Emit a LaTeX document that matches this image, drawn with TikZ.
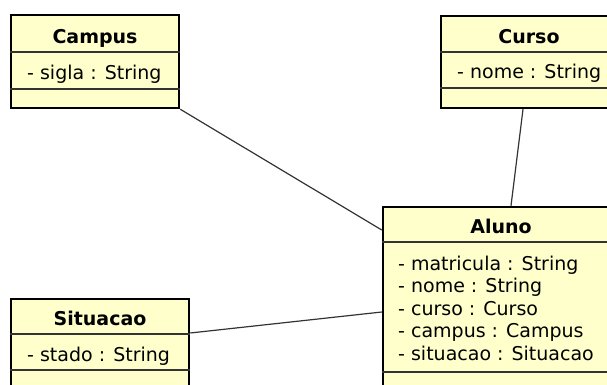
\documentclass[tikz,border=0pt]{standalone}
\usepackage{fontspec}
\setmainfont{DejaVu Sans}
\definecolor{classfill}{HTML}{FFFFCC}
\definecolor{lineclr}{HTML}{333333}
\tikzset{
  classbox/.style={rectangle, draw=black, fill=classfill, line width=2.5pt, inner sep=0pt},
  sepline/.style={draw=lineclr, line width=1.5pt},
  classtitle/.style={font=\bfseries\fontsize{19}{22}\selectfont, inner sep=0pt, anchor=base},
  attr/.style={font=\fontsize{19}{22.5}\selectfont, inner sep=0pt, anchor=base west},
  assoc/.style={draw=lineclr, line width=1.2pt},
}
\begin{document}
\begin{tikzpicture}[x=1pt,y=-1pt]
\useasboundingbox (0,0) rectangle (607,385);
\clip (0,0) rectangle (607,385);

% Campus
\node[classbox, minimum width=168pt, minimum height=93pt] (campus) at (95,61.5) {};
\draw[sepline] (campus.west |- 0,52) -- (campus.east |- 0,52);
\draw[sepline] (campus.west |- 0,89) -- (campus.east |- 0,89);
\node[classtitle] (campustitle) at (95,43.3) {Campus};
\node[attr] (campusa1) at (27,79.5) {- sigla : String};

% Curso
\node[classbox, minimum width=176pt, minimum height=92pt] (curso) at (529,62) {};
\draw[sepline] (curso.west |- 0,52) -- (curso.east |- 0,52);
\draw[sepline] (curso.west |- 0,88) -- (curso.east |- 0,88);
\node[classtitle] (cursotitle) at (529,43.3) {Curso};
\node[attr] (cursoa1) at (457,79) {- nome : String};

% Aluno
\node[classbox, minimum width=236pt, minimum height=193pt] (aluno) at (501,303.5) {};
\draw[sepline] (aluno.west |- 0,242) -- (aluno.east |- 0,242);
\draw[sepline] (aluno.west |- 0,372) -- (aluno.east |- 0,372);
\node[classtitle] (alunotitle) at (501,233.3) {Aluno};
\node[attr] (alunoa1) at (398,270) {- matricula : String};
\node[attr] (alunoa2) at (398,292.5) {- nome : String};
\node[attr] (alunoa3) at (398,315) {- curso : Curso};
\node[attr] (alunoa4) at (398,337.5) {- campus : Campus};
\node[attr] (alunoa5) at (398,360) {- situacao : Situacao};

% Situacao
\node[classbox, minimum width=178pt, minimum height=101pt] (situacao) at (100,349.5) {};
\draw[sepline] (situacao.west |- 0,334) -- (situacao.east |- 0,334);
\draw[sepline] (situacao.west |- 0,370) -- (situacao.east |- 0,370);
\node[classtitle] (situacaotitle) at (100,325) {Situacao};
\node[attr] (situacaoa1) at (27,361.7) {- stado : String};

% Associations
\draw[assoc] (campus.south east) -- ([yshift=73.5pt]aluno.west);
\draw[assoc] ([xshift=-6pt]curso.south) -- ([xshift=10pt]aluno.north);
\draw[assoc] ([yshift=16.5pt]situacao.east) -- ([yshift=-8.5pt]aluno.west);
\end{tikzpicture}
\end{document}
